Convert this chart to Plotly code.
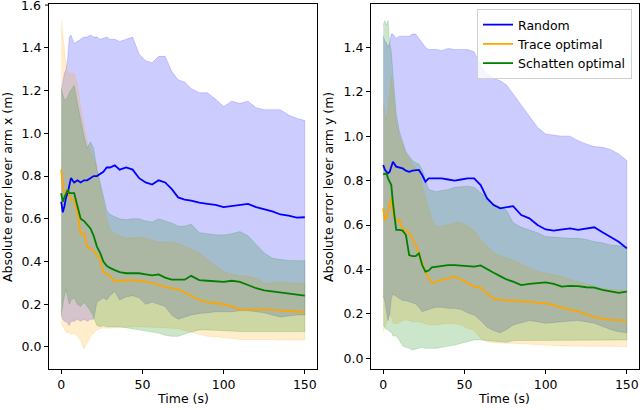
import plotly.graph_objs as go

# time grid (s), shared by every series
t = [0, 1, 2, 3, 4, 5, 6, 8, 10, 12, 14, 16, 18, 20, 22, 24, 26, 28, 30, 33,
     36, 40, 44, 48, 52, 56, 60, 64, 68, 72, 76, 80, 85, 90, 95, 100, 105, 110,
     115, 120, 125, 130, 135, 140, 145, 150]

# ---- lever arm x ----
x_random = [0.68, 0.63, 0.66, 0.70, 0.72, 0.76, 0.79, 0.77, 0.78, 0.77, 0.78, 0.78, 0.79, 0.80, 0.80, 0.81,
            0.82, 0.84, 0.84, 0.85, 0.83, 0.84, 0.83, 0.79, 0.77, 0.76, 0.78, 0.77, 0.74, 0.70, 0.69, 0.685,
            0.675, 0.67, 0.665, 0.655, 0.66, 0.665, 0.67, 0.655, 0.645, 0.635, 0.62, 0.615, 0.605, 0.607]
x_random_hi = [1.20, 1.25, 1.28, 1.30, 1.35, 1.45, 1.46, 1.42, 1.43, 1.44, 1.45, 1.45, 1.46, 1.45, 1.45, 1.44,
               1.445, 1.45, 1.44, 1.44, 1.43, 1.44, 1.45, 1.37, 1.34, 1.33, 1.36, 1.36, 1.29, 1.25, 1.24, 1.21,
               1.19, 1.19, 1.16, 1.125, 1.15, 1.14, 1.15, 1.12, 1.11, 1.11, 1.11, 1.085, 1.07, 1.06]
x_random_lo = [0.15, 0.13, 0.12, 0.12, 0.11, 0.10, 0.12, 0.12, 0.13, 0.12, 0.13, 0.12, 0.13, 0.13, 0.21, 0.22,
               0.23, 0.22, 0.24, 0.26, 0.22, 0.235, 0.24, 0.23, 0.20, 0.21, 0.20, 0.19, 0.15, 0.13, 0.14, 0.15,
               0.157, 0.16, 0.165, 0.165, 0.165, 0.17, 0.17, 0.165, 0.16, 0.15, 0.14, 0.145, 0.15, 0.15]

x_trace = [0.83, 0.75, 0.72, 0.72, 0.735, 0.71, 0.69, 0.69, 0.625, 0.53, 0.53, 0.47, 0.46, 0.45, 0.43, 0.41,
           0.35, 0.34, 0.335, 0.305, 0.31, 0.313, 0.313, 0.31, 0.305, 0.30, 0.29, 0.28, 0.275, 0.27, 0.255, 0.24,
           0.22, 0.21, 0.205, 0.20, 0.19, 0.175, 0.175, 0.175, 0.176, 0.175, 0.17, 0.17, 0.165, 0.165]
x_trace_hi = [1.53, 1.45, 1.39, 1.32, 1.29, 1.28, 1.28, 1.28, 1.23, 1.12, 1.04, 0.96, 0.92, 0.88, 0.85, 0.75,
              0.68, 0.60, 0.55, 0.53, 0.52, 0.51, 0.51, 0.515, 0.51, 0.50, 0.49, 0.49, 0.49, 0.485, 0.47, 0.46,
              0.44, 0.41, 0.38, 0.355, 0.34, 0.335, 0.33, 0.32, 0.30, 0.30, 0.305, 0.30, 0.30, 0.30]
x_trace_lo = [0.12, 0.095, 0.08, 0.07, 0.064, 0.07, 0.06, 0.064, 0.05, 0.03, -0.01, 0.02, 0.05, 0.065, 0.08, 0.087,
              0.09, 0.09, 0.088, 0.09, 0.092, 0.092, 0.095, 0.095, 0.095, 0.092, 0.09, 0.09, 0.088, 0.085, 0.08, 0.07,
              0.06, 0.05, 0.048, 0.045, 0.04, 0.035, 0.033, 0.033, 0.035, 0.035, 0.033, 0.03, 0.033, 0.033]

x_schatten = [0.72, 0.68, 0.70, 0.72, 0.735, 0.72, 0.72, 0.72, 0.66, 0.60, 0.59, 0.57, 0.555, 0.52, 0.47, 0.44,
              0.40, 0.38, 0.37, 0.36, 0.35, 0.345, 0.345, 0.345, 0.34, 0.335, 0.34, 0.325, 0.315, 0.315, 0.315, 0.333,
              0.313, 0.31, 0.307, 0.305, 0.31, 0.305, 0.29, 0.275, 0.265, 0.26, 0.255, 0.25, 0.245, 0.24]
x_schatten_hi = [1.21, 1.18, 1.155, 1.16, 1.17, 1.19, 1.20, 1.225, 1.14, 1.06, 0.99, 0.93, 0.96, 0.93, 0.83, 0.77,
                 0.71, 0.64, 0.62, 0.61, 0.60, 0.595, 0.60, 0.60, 0.59, 0.585, 0.60, 0.59, 0.58, 0.565, 0.565, 0.575,
                 0.535, 0.53, 0.525, 0.524, 0.53, 0.54, 0.52, 0.48, 0.44, 0.415, 0.41, 0.405, 0.404, 0.404]
x_schatten_lo = [0.15, 0.20, 0.24, 0.27, 0.24, 0.20, 0.22, 0.23, 0.20, 0.19, 0.21, 0.19, 0.17, 0.14, 0.10, 0.095,
                 0.10, 0.095, 0.095, 0.095, 0.095, 0.09, 0.085, 0.08, 0.075, 0.07, 0.065, 0.055, 0.05, 0.05, 0.06, 0.07,
                 0.08, 0.08, 0.078, 0.075, 0.075, 0.072, 0.072, 0.07, 0.072, 0.072, 0.07, 0.072, 0.072, 0.072]

# ---- lever arm y ----
y_random = [0.87, 0.85, 0.84, 0.833, 0.84, 0.863, 0.885, 0.863, 0.86, 0.855, 0.845, 0.84, 0.845, 0.848, 0.848, 0.825,
            0.795, 0.81, 0.81, 0.81, 0.81, 0.805, 0.80, 0.805, 0.81, 0.81, 0.78, 0.72, 0.69, 0.675, 0.68, 0.685,
            0.645, 0.63, 0.60, 0.58, 0.575, 0.58, 0.585, 0.578, 0.585, 0.59, 0.568, 0.545, 0.525, 0.495]
y_random_hi = [1.45, 1.43, 1.42, 1.40, 1.42, 1.46, 1.46, 1.44, 1.45, 1.45, 1.45, 1.45, 1.46, 1.46, 1.44, 1.42,
               1.40, 1.39, 1.39, 1.39, 1.385, 1.395, 1.39, 1.39, 1.39, 1.38, 1.32, 1.28, 1.26, 1.25, 1.23, 1.19,
               1.14, 1.09, 1.04, 1.01, 1.005, 1.0, 1.0, 0.98, 0.965, 0.953, 0.95, 0.94, 0.92, 0.89]
y_random_lo = [0.28, 0.26, 0.22, 0.17, 0.20, 0.27, 0.29, 0.28, 0.27, 0.26, 0.26, 0.255, 0.25, 0.245, 0.23, 0.21,
               0.215, 0.22, 0.225, 0.23, 0.23, 0.225, 0.225, 0.22, 0.205, 0.195, 0.17, 0.14, 0.125, 0.115, 0.13, 0.15,
               0.16, 0.17, 0.165, 0.158, 0.16, 0.165, 0.168, 0.17, 0.165, 0.158, 0.145, 0.13, 0.12, 0.115]

y_trace = [0.675, 0.62, 0.64, 0.67, 0.70, 0.72, 0.65, 0.615, 0.623, 0.578, 0.575, 0.565, 0.54, 0.51, 0.47, 0.43,
           0.39, 0.36, 0.34, 0.345, 0.353, 0.36, 0.368, 0.355, 0.34, 0.323, 0.318, 0.29, 0.27, 0.263, 0.26, 0.262,
           0.255, 0.255, 0.25, 0.248, 0.24, 0.23, 0.218, 0.212, 0.198, 0.185, 0.178, 0.173, 0.172, 0.17]
y_trace_hi = [1.15, 1.10, 1.08, 1.12, 1.20, 1.27, 1.20, 1.06, 1.00, 0.96, 0.92, 0.90, 0.87, 0.86, 0.84, 0.78,
              0.72, 0.67, 0.63, 0.59, 0.595, 0.60, 0.61, 0.61, 0.595, 0.575, 0.535, 0.505, 0.475, 0.462, 0.45, 0.443,
              0.425, 0.405, 0.39, 0.383, 0.375, 0.368, 0.355, 0.345, 0.335, 0.323, 0.315, 0.31, 0.308, 0.308]
y_trace_lo = [0.12, 0.14, 0.16, 0.18, 0.20, 0.19, 0.16, 0.155, 0.16, 0.17, 0.173, 0.17, 0.165, 0.165, 0.165, 0.16,
              0.155, 0.152, 0.15, 0.15, 0.155, 0.157, 0.157, 0.15, 0.135, 0.125, 0.09, 0.075, 0.07, 0.068, 0.068, 0.068,
              0.068, 0.066, 0.063, 0.06, 0.058, 0.056, 0.055, 0.055, 0.055, 0.055, 0.055, 0.053, 0.053, 0.053]

y_schatten = [0.828, 0.83, 0.833, 0.81, 0.795, 0.78, 0.70, 0.578, 0.578, 0.575, 0.555, 0.465, 0.46, 0.46, 0.473, 0.42,
              0.39, 0.395, 0.41, 0.413, 0.415, 0.42, 0.42, 0.418, 0.418, 0.413, 0.418, 0.40, 0.385, 0.37, 0.355, 0.345,
              0.33, 0.335, 0.34, 0.342, 0.335, 0.323, 0.326, 0.325, 0.32, 0.318, 0.308, 0.30, 0.295, 0.30]
y_schatten_hi = [1.50, 1.52, 1.50, 1.52, 1.42, 1.38, 1.28, 1.10, 1.02, 0.97, 0.93, 0.91, 0.89, 0.88, 0.875, 0.85,
                 0.80, 0.76, 0.755, 0.75, 0.755, 0.76, 0.77, 0.773, 0.775, 0.77, 0.745, 0.725, 0.695, 0.68, 0.665, 0.61,
                 0.59, 0.578, 0.565, 0.548, 0.545, 0.545, 0.54, 0.54, 0.535, 0.525, 0.52, 0.51, 0.505, 0.503]
y_schatten_lo = [0.15, 0.14, 0.13, 0.13, 0.12, 0.12, 0.10, 0.10, 0.08, 0.055, 0.05, 0.045, 0.038, 0.04, 0.045, 0.05,
                 0.045, 0.045, 0.045, 0.045, 0.05, 0.055, 0.06, 0.065, 0.075, 0.083, 0.083, 0.08, 0.078, 0.075, 0.072, 0.08,
                 0.082, 0.083, 0.083, 0.083, 0.082, 0.083, 0.082, 0.08, 0.08, 0.08, 0.082, 0.083, 0.083, 0.083]

names = ["Random", "Trace optimal", "Schatten optimal"]
line_colors = ["rgb(0,0,255)", "rgb(255,165,0)", "rgb(0,128,0)"]
fill_colors = ["rgba(0,0,255,0.2)", "rgba(255,165,0,0.2)", "rgba(0,128,0,0.2)"]

panels = [
    ("x", "y", [(x_random, x_random_hi, x_random_lo),
                (x_trace, x_trace_hi, x_trace_lo),
                (x_schatten, x_schatten_hi, x_schatten_lo)]),
    ("x2", "y2", [(y_random, y_random_hi, y_random_lo),
                  (y_trace, y_trace_hi, y_trace_lo),
                  (y_schatten, y_schatten_hi, y_schatten_lo)]),
]

fig = go.Figure()
for xa, ya, series in panels:
    # bands first, then the mean lines on top
    for (mean, hi, lo), fc in zip(series, fill_colors):
        fig.add_trace(go.Scatter(x=t + t[::-1], y=hi + lo[::-1], xaxis=xa, yaxis=ya,
                                 mode="lines", fill="toself", fillcolor=fc,
                                 line=dict(color=fc, width=0.8), showlegend=False,
                                 hoverinfo="skip"))
    for (mean, hi, lo), name, lc in zip(series, names, line_colors):
        fig.add_trace(go.Scatter(x=t, y=mean, xaxis=xa, yaxis=ya, mode="lines", name=name,
                                 line=dict(color=lc, width=1.8),
                                 showlegend=(xa == "x2")))

font = dict(family="DejaVu Sans", size=12.5, color="black")
ax = dict(showline=True, mirror=True, linecolor="black", linewidth=1, ticks="outside",
          ticklen=4, tickcolor="black", showgrid=False, zeroline=False, tickfont=font,
          automargin=False)

# pixel helpers (figure is 640 x 410, no margins)
def px_x(v):
    return v / 640


def px_y(v):
    return 1 - v / 410


title_kw = dict(xref="paper", yref="paper", showarrow=False, font=font,
                xanchor="center", yanchor="middle")

fig.update_layout(
    width=640, height=410,
    margin=dict(l=0, r=0, t=0, b=0, autoexpand=False),
    paper_bgcolor="white", plot_bgcolor="white",
    font=font,
    xaxis=dict(ax, domain=[px_x(49), px_x(317)], range=[-7.5, 157.5], tickvals=[0, 50, 100, 150]),
    yaxis=dict(ax, domain=[px_y(369), px_y(4)], range=[-0.103, 1.605],
               tickvals=[0, 0.2, 0.4, 0.6, 0.8, 1.0, 1.2, 1.4],
               ticktext=["0.0", "0.2", "0.4", "0.6", "0.8", "1.0", "1.2", "1.4"]),
    xaxis2=dict(ax, domain=[px_x(371), px_x(639)], range=[-7.5, 157.5], tickvals=[0, 50, 100, 150], anchor="y2"),
    yaxis2=dict(ax, domain=[px_y(369), px_y(4)], range=[-0.048, 1.595], anchor="x2",
                tickvals=[0, 0.2, 0.4, 0.6, 0.8, 1.0, 1.2, 1.4],
                ticktext=["0.0", "0.2", "0.4", "0.6", "0.8", "1.0", "1.2", "1.4"]),
    legend=dict(x=px_x(632), y=px_y(9), xanchor="right", yanchor="top",
                bgcolor="rgba(255,255,255,0.8)", bordercolor="#d0d0d0", borderwidth=1,
                font=font, itemwidth=30, tracegroupgap=0),
    annotations=[
        dict(title_kw, text="Absolute error lever arm x (m)", x=px_x(8), y=px_y(187), textangle=-90),
        dict(title_kw, text="Absolute error lever arm y (m)", x=px_x(329), y=px_y(187), textangle=-90),
        dict(title_kw, text="Time (s)", x=px_x(183), y=px_y(398)),
        dict(title_kw, text="Time (s)", x=px_x(504), y=px_y(398)),
        # top tick of the left axis sits on the page edge, plotly drops it, so place it by hand
        dict(text="1.6", x=px_x(43), y=1.6, xref="paper", yref="y", showarrow=False,
             xanchor="right", yanchor="middle", font=font),
    ],
    shapes=[dict(type="line", xref="paper", yref="y", x0=px_x(45), x1=px_x(49), y0=1.6, y1=1.6,
                 line=dict(color="black", width=1))],
)

# the page body has a default 8px margin; drop it so the figure fills the window
fig.write_html("out.html", config={"displayModeBar": False},
               post_script="document.body.style.margin='0px';")
